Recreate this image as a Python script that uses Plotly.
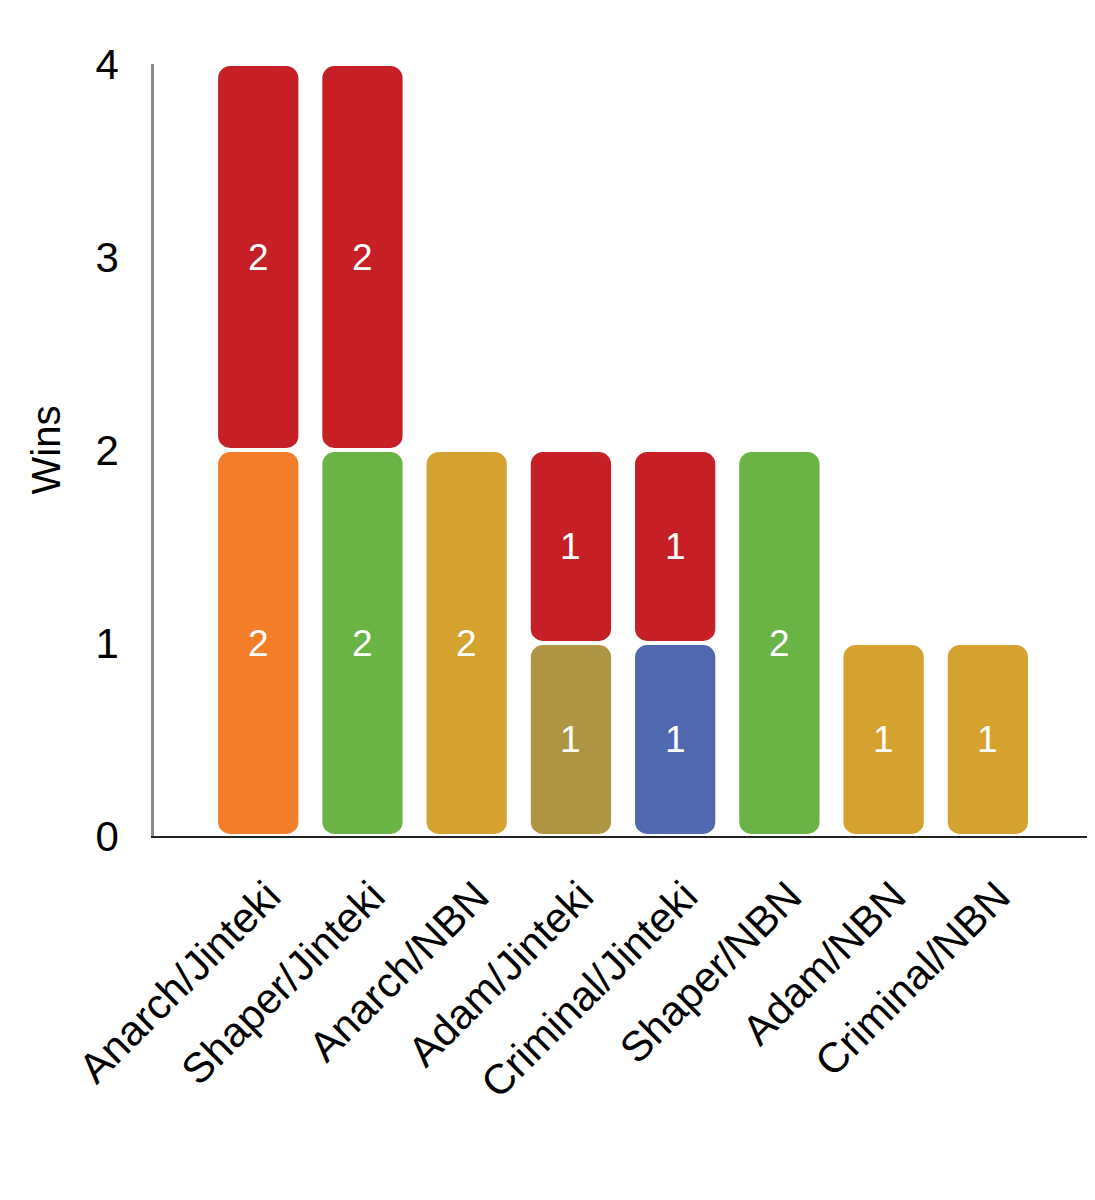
import plotly.graph_objects as go

categories = ["Anarch/Jinteki", "Shaper/Jinteki", "Anarch/NBN", "Adam/Jinteki",
              "Criminal/Jinteki", "Shaper/NBN", "Adam/NBN", "Criminal/NBN"]

# wins per faction (stack order: runner first, then corp)
anarch   = [2, 0, 0, 0, 0, 0, 0, 0]
shaper   = [0, 2, 0, 0, 0, 2, 0, 0]
adam     = [0, 0, 0, 1, 0, 0, 0, 0]
criminal = [0, 0, 0, 0, 1, 0, 0, 0]
jinteki  = [2, 2, 0, 1, 1, 0, 0, 0]
nbn      = [0, 0, 2, 0, 0, 0, 1, 1]

series = [
    ("Anarch", anarch, "#F47D2A"),
    ("Shaper", shaper, "#6AB446"),
    ("Adam", adam, "#AE9543"),
    ("Criminal", criminal, "#4F68B0"),
    ("Jinteki", jinteki, "#C61F26"),
    ("NBN", nbn, "#D6A22F"),
]

FONT = "Liberation Sans, Arial, Helvetica, sans-serif"
INSET = 0.011
BAR_W = 0.77
RADIUS = 12

fig = go.Figure()
cum = [0.0] * len(categories)
annotations = []
for name, vals, color in series:
    xs, bases, heights = [], [], []
    for i, v in enumerate(vals):
        if v > 0:
            start = cum[i]
            end = start + v
            xs.append(categories[i])
            bases.append(start + INSET)
            heights.append(v - 2 * INSET)
            annotations.append(dict(
                x=categories[i], y=(start + end) / 2, text=str(v),
                showarrow=False, yshift=0,
                font=dict(color="white", size=37, family=FONT),
            ))
            cum[i] = end
    if not xs:
        continue
    fig.add_trace(go.Bar(
        x=xs, y=heights, base=bases,
        width=BAR_W, marker=dict(color=color, line=dict(width=0), cornerradius=RADIUS),
        name=name, showlegend=False, hoverinfo="skip",
    ))

fig.update_layout(
    width=1095, height=1200,
    barmode="overlay",
    plot_bgcolor="white", paper_bgcolor="white",
    margin=dict(l=146, r=13, t=56, b=372),
    font=dict(family=FONT, size=40, color="black"),
    annotations=annotations,
    xaxis=dict(
        categoryorder="array", categoryarray=categories,
        range=[-1.0, 7.98], showgrid=False, zeroline=False, automargin=False,
        showline=True, linecolor="#222222", linewidth=1.5,
        tickangle=-45, ticks="outside", ticklen=17, tickcolor="white",
        ticklabelshift=10,
        tickfont=dict(size=42),
    ),
    yaxis=dict(
        range=[0, 4], tickvals=[0, 1, 2, 3, 4], showgrid=False, zeroline=False,
        automargin=False,
        showline=True, linecolor="#8A8A8A", linewidth=2.5,
        ticks="outside", ticklen=24, tickcolor="white",
        tickfont=dict(size=42),
        title=dict(text="Wins", font=dict(size=40), standoff=23),
    ),
)

fig.write_html("out.html")
